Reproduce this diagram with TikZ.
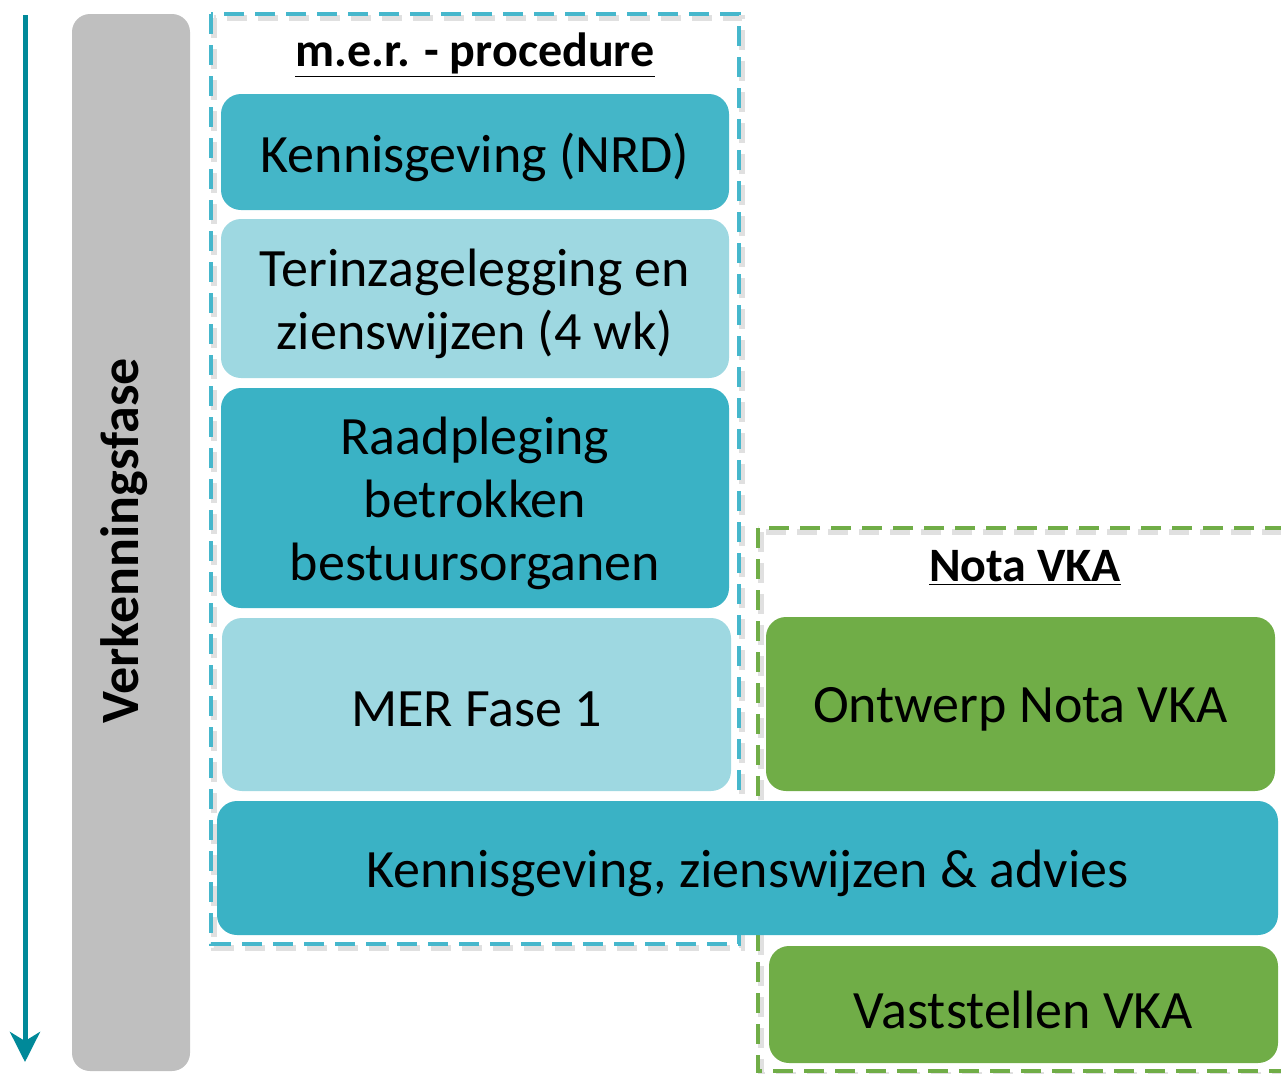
\documentclass[tikz,border=0pt]{standalone}
\usepackage{fontspec}
\setmainfont{Carlito}
\usetikzlibrary{arrows.meta}

\definecolor{merdonker}{RGB}{58,178,197}
\definecolor{merlicht}{RGB}{158,216,225}
\definecolor{merlijn}{RGB}{70,183,204}
\definecolor{vkagroen}{RGB}{112,173,71}
\definecolor{faseGrijs}{RGB}{191,191,191}
\definecolor{pijlblauw}{RGB}{0,137,153}

\begin{document}
\begin{tikzpicture}[x=0.5pt,y=-0.5pt,
  stap/.style={rounded corners=10pt, inner sep=0pt},
  tekst/.style={align=center, inner sep=0pt, yshift=-2.5pt,
    font=\fontsize{27}{31.5}\selectfont},
  kop/.style={font=\fontsize{24}{28}\selectfont\bfseries},
  kader/.style={dash pattern=on 10pt off 5.5pt, line width=2.4pt},
  schaduw/.style={kader, draw=black!40, opacity=0.3, line width=3pt}]

\useasboundingbox (0,0) rectangle (1281,1073);

% dashed frames, with a soft shadow
\draw[schaduw] (214,18) rectangle (742,948);
\draw[kader, draw=merlijn] (211,14) rectangle (739,944);
\draw[schaduw] (761,532) rectangle (1300,1075);
\draw[kader, draw=vkagroen] (758,528) rectangle (1300,1071);

% phase bar
\node[fill=faseGrijs, rounded corners=9pt, minimum width=59pt, minimum height=528.5pt] (fase) at (131,542.5) {};
\node[rotate=90, font=\fontsize{27}{30}\selectfont\bfseries] (fasetekst) at (124,541) {Verkenningsfase};

\coordinate (start) at (25,15);
\coordinate (eind) at (25,1062);
\draw[pijlblauw, line width=2.5pt, -{Stealth[length=15pt,width=15pt,inset=4.5pt]}] (start) -- (eind);

% m.e.r. - procedure
\node[kop] (merkop) at (475,55) {\underline{m.e.r. - procedure}};
\node[stap, fill=merdonker!95!white, minimum width=254pt, minimum height=58pt,
  label={[tekst]center:Kennisgeving (NRD)}] (kgv) at (475,152) {};
\node[stap, fill=merlicht, minimum width=254pt, minimum height=79.5pt,
  label={[tekst]center:Terinzagelegging en\\zienswijzen (4 wk)}] (inzage) at (475,298.5) {};
\node[stap, fill=merdonker, minimum width=254pt, minimum height=110pt,
  label={[tekst]center:Raadpleging\\betrokken\\bestuursorganen}] (raad) at (475,498) {};
\node[stap, fill=merlicht, minimum width=254.5pt, minimum height=86.5pt,
  label={[tekst]center:MER Fase 1}] (mer1) at (476.5,704.5) {};
\node[stap, fill=merdonker, minimum width=530.5pt, minimum height=67pt,
  label={[tekst]center:Kennisgeving, zienswijzen \& advies}] (advies) at (747.5,868) {};

% Nota VKA
\node[kop] (vkakop) at (1025,568) {\underline{Nota VKA}};
\node[stap, fill=vkagroen, minimum width=254.5pt, minimum height=87pt,
  label={[tekst]center:Ontwerp Nota VKA}] (ontwerp) at (1020.5,704) {};
\node[stap, fill=vkagroen, minimum width=254.5pt, minimum height=58.5pt,
  label={[tekst]center:Vaststellen VKA}] (vaststellen) at (1023.5,1004.5) {};

\end{tikzpicture}
\end{document}
